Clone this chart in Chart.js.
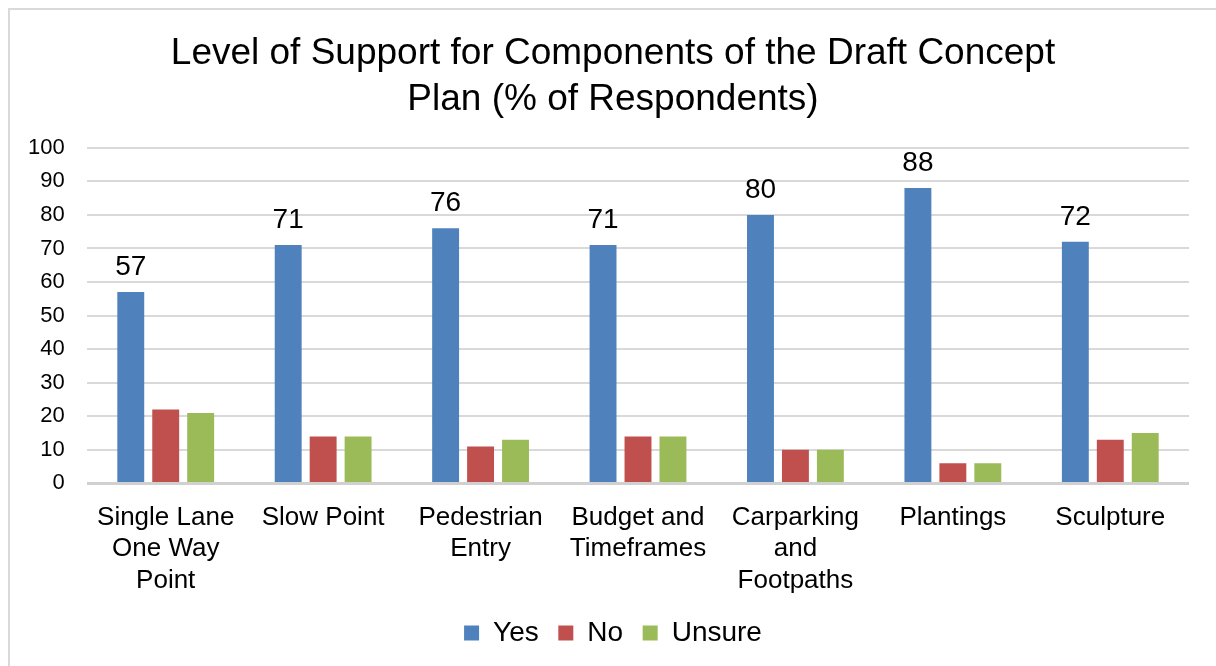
<html lang="en">
<head>
    <meta charset="UTF-8">
    <title>Level of Support</title>
    <script src="https://cdn.jsdelivr.net/npm/chart.js"></script>
    <style>
        body { margin: 0; background: #fff; overflow: hidden; }
        .frame { position: absolute; left: 8px; top: 8px; width: 1400px; height: 900px; border: 2px solid #d9d9d9; }
        .wrap { position: absolute; left: 0; top: 0; width: 1216px; height: 666px; }
    </style>
</head>
<body>
    <div class="frame"></div>
    <div class="wrap"><canvas id="supportChart"></canvas></div>

    <script>
        // Chart data
        const categories = [
            ['Single Lane', 'One Way', 'Point'],
            ['Slow Point'],
            ['Pedestrian', 'Entry'],
            ['Budget and', 'Timeframes'],
            ['Carparking', 'and', 'Footpaths'],
            ['Plantings'],
            ['Sculpture']
        ];
        const yesValues = [57, 71, 76, 71, 80, 88, 72];
        const noValues = [22, 14, 11, 14, 10, 6, 13];
        const unsureValues = [21, 14, 13, 14, 10, 6, 15];
        const yTicks = [0, 10, 20, 30, 40, 50, 60, 70, 80, 90, 100];

        const font = "'Liberation Sans', Arial, sans-serif";

        // value labels above the "Yes" bars only
        const yesLabels = {
            id: 'yesLabels',
            afterDatasetsDraw(chart) {
                const c = chart.ctx;
                const meta = chart.getDatasetMeta(0);
                c.save();
                c.font = '28px ' + font;
                c.fillStyle = '#000';
                c.textAlign = 'center';
                c.textBaseline = 'alphabetic';
                meta.data.forEach((bar, i) => {
                    c.fillText(yesValues[i], bar.x, bar.y - 17);
                });
                c.restore();
            }
        };

        const ctx = document.getElementById('supportChart').getContext('2d');
        new Chart(ctx, {
            type: 'bar',
            data: {
                labels: categories,
                datasets: [
                    { label: 'Yes', data: yesValues, backgroundColor: '#4f81bd' },
                    { label: 'No', data: noValues, backgroundColor: '#c0504d' },
                    { label: 'Unsure', data: unsureValues, backgroundColor: '#9bbb59' }
                ]
            },
            options: {
                responsive: true,
                maintainAspectRatio: false,
                animation: false,
                layout: { padding: { left: 37, right: 27, top: 0, bottom: 9 } },
                datasets: { bar: { categoryPercentage: 0.666, barPercentage: 0.77 } },
                plugins: {
                    title: {
                        display: true,
                        text: ['Level of Support for Components of the Draft Concept', 'Plan (% of Respondents)'],
                        color: '#000',
                        font: { family: font, size: 37, weight: 'normal', lineHeight: 1.24 },
                        padding: { top: 31, bottom: 25 }
                    },
                    legend: {
                        position: 'bottom',
                        labels: {
                            color: '#000',
                            font: { family: font, size: 28 },
                            boxWidth: 15,
                            boxHeight: 15,
                            padding: 4,
                            // a little extra room after each entry but the last
                            generateLabels: (chart) => {
                                const items = Chart.defaults.plugins.legend.labels.generateLabels(chart);
                                items.forEach((it, i) => { if (i < items.length - 1) it.text += '  '; });
                                return items;
                            }
                        }
                    },
                    tooltip: { enabled: false }
                },
                scales: {
                    x: {
                        grid: { display: false, drawTicks: false },
                        border: { display: false },
                        ticks: {
                            color: '#000',
                            font: { family: font, size: 26, lineHeight: 1.2 },
                            padding: 19,
                            maxRotation: 0,
                            autoSkip: false
                        }
                    },
                    y: {
                        min: 0,
                        max: 100,
                        afterBuildTicks: (axis) => { axis.ticks = yTicks.map(v => ({ value: v })); },
                        afterFit: (axis) => { axis.width = 50; },
                        grid: {
                            drawTicks: false,
                            color: (c) => c.tick && c.tick.value === 0 ? '#d0d0d0' : '#d9d9d9',
                            lineWidth: (c) => c.tick && c.tick.value === 0 ? 3 : 2
                        },
                        border: { display: false },
                        ticks: {
                            color: '#000',
                            font: { family: font, size: 22 },
                            mirror: true,
                            crossAlign: 'far',
                            padding: -59
                        }
                    }
                }
            },
            plugins: [yesLabels]
        });
    </script>
</body>
</html>
